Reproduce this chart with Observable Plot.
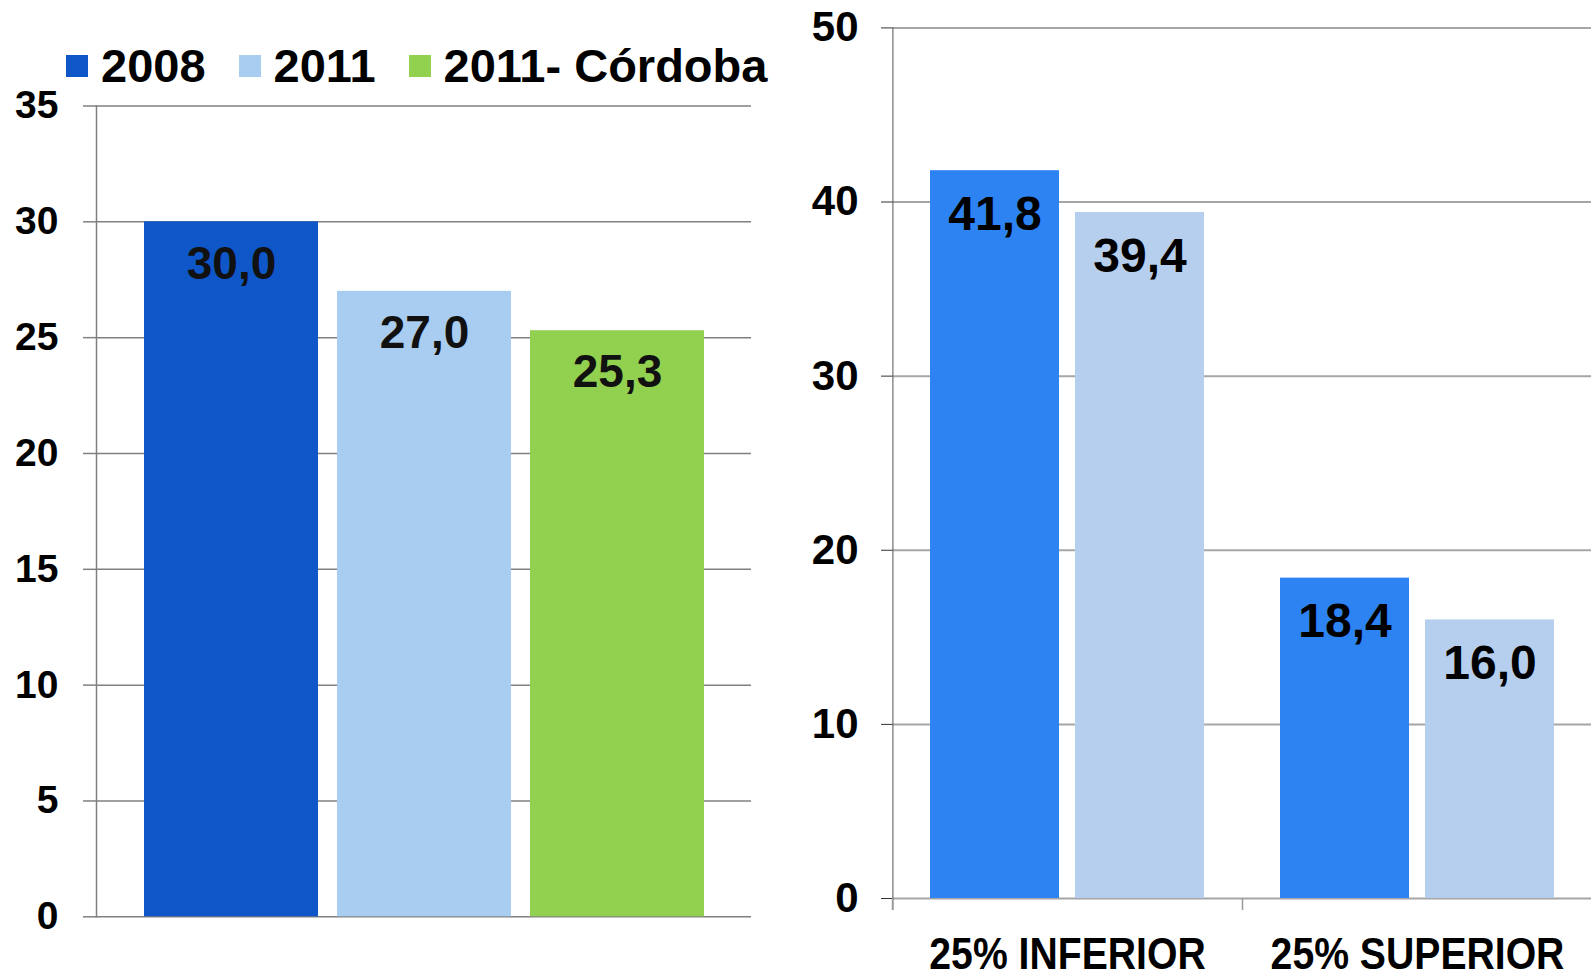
<!DOCTYPE html>
<html><head><meta charset="utf-8">
<script src="https://cdn.jsdelivr.net/npm/d3@7"></script>
<script src="https://cdn.jsdelivr.net/npm/@observablehq/plot@0.6"></script>
<style>
html,body{margin:0;padding:0;background:#fff;overflow:hidden;}
#wrap{position:relative;width:1591px;height:973px;overflow:hidden;background:#fff;}
#left,#right,#legend{position:absolute;top:0;}
#left{left:0;width:770px;}
#right{left:780px;width:820px;}
#left svg,#right svg{max-width:none !important;}
#legend{left:66px;top:42px;font:bold 47px "Liberation Sans",Arial,sans-serif;color:#000;}
#legend .lg-swatches{font:bold 47px "Liberation Sans",Arial,sans-serif !important;color:#000;margin:0 !important;min-height:0 !important;height:47px;display:flex !important;align-items:center;flex-wrap:nowrap !important;}
#legend .lg-swatch{margin-right:33px !important;white-space:nowrap;display:inline-flex;align-items:center;}
#legend .lg-swatch > svg{margin-right:13px !important;}
</style></head><body>
<div id="wrap"><div id="left"></div><div id="legend"></div><div id="right"></div></div>
<script>
// ---- data: left chart ----
const leftSeries = ["2008", "2011", "2011- Córdoba"];
const leftValues = [30.0, 27.0, 25.3];
const leftColors = ["#0f57c9", "#a9cdf0", "#92d050"];
const leftTicks = [0, 5, 10, 15, 20, 25, 30, 35];

// ---- data: right chart ----
const groups = ["25% INFERIOR", "25% SUPERIOR"];
const rightSeries = ["2008", "2011"];
const rightInferior = [41.8, 39.4];
const rightSuperior = [18.4, 16.0];
const rightColors = ["#2e83f2", "#b6cfee"];
const rightTicks = [0, 10, 20, 30, 40, 50];

const fmt = d3.formatLocale({decimal: ",", thousands: ".", grouping: [3], currency: ["", ""]}).format(".1f");
const FONT = "'Liberation Sans', Arial, sans-serif";

const leftData = leftSeries.map((s, i) => ({series: s, value: leftValues[i]}));
const rightData = groups.flatMap((g, gi) =>
  rightSeries.map((s, si) => ({group: g, series: s, value: [rightInferior, rightSuperior][gi][si]})));

// ---- left chart ----
const left = Plot.plot({
  width: 770, height: 973,
  marginLeft: 96, marginRight: 19, marginTop: 105.5, marginBottom: 56.7,
  style: {background: "transparent", fontFamily: FONT, color: "#000", overflow: "visible"},
  x: {domain: leftSeries, paddingInner: 0.1, paddingOuter: 0.24, axis: null},
  y: {domain: [0, 35]},
  color: {domain: leftSeries, range: leftColors},
  marks: [
    Plot.gridY(leftTicks, {stroke: "#808080", strokeOpacity: 1, strokeWidth: 1.5}),
    Plot.axisY(leftTicks, {tickSize: 13, tickPadding: 25, stroke: "#808080", strokeWidth: 1.5,
      fontSize: 39, fontWeight: "bold", label: null}),
    Plot.frame({anchor: "left", stroke: "#808080", strokeWidth: 1.5}),
    Plot.barY(leftData, {x: "series", y: "value", fill: "series"}),
    Plot.text(leftData, {x: "series", y: "value", text: d => fmt(d.value), dy: 42,
      fontSize: 46, fontWeight: "bold", fill: "#111"})
  ]
});
document.getElementById("left").appendChild(left);
document.getElementById("legend").appendChild(
  left.legend("color", {swatchSize: 22, className: "lg"}));

// ---- right chart ----
const RW = 820, RML = 112, RMR = 8;
const facetW = (RW - RML - RMR) / groups.length;
const pIn = 0.11, pOut = 0.255;
const step = facetW / (rightSeries.length - pIn + 2 * pOut);
const axisDx = pOut * step + step * (1 - pIn) / 2;

const right = Plot.plot({
  width: RW, height: 973,
  marginLeft: RML, marginRight: RMR, marginTop: 27.4, marginBottom: 75,
  style: {background: "transparent", fontFamily: FONT, color: "#000", overflow: "visible"},
  fx: {domain: groups, padding: 0, label: null},
  x: {domain: rightSeries, paddingInner: pIn, paddingOuter: pOut, axis: null},
  y: {domain: [0, 50]},
  color: {domain: rightSeries, range: rightColors},
  marks: [
    Plot.gridY(rightTicks, {stroke: "#a6a6a6", strokeOpacity: 1, strokeWidth: 2}),
    Plot.barY(rightData, {fx: "group", x: "series", y: "value", fill: "series"}),
    Plot.axisY(rightTicks, {tickSize: 11, tickPadding: 23, stroke: "#333",
      fontSize: 42, fontWeight: "bold", label: null}),
    Plot.ruleX([{group: groups[0], series: rightSeries[0]}],
      {fx: "group", x: "series", dx: -axisDx, insetBottom: -12, stroke: "#555"}),
    Plot.axisFx({anchor: "bottom", tickSize: 12, dx: -facetW / 2, stroke: "#999", strokeWidth: 1.5,
      tickFormat: () => "", label: null}),
    Plot.axisFx({anchor: "bottom", tickSize: 0, tickPadding: 39, fontSize: 44, fontWeight: "bold",
      label: null}),
    Plot.text(rightData, {fx: "group", x: "series", y: "value", text: d => fmt(d.value), dy: 44,
      fontSize: 48, fontWeight: "bold", fill: "#000"})
  ]
});
document.getElementById("right").appendChild(right);

// narrow the group labels (the original uses a narrower display face)
d3.select(right).selectAll("text").each(function () {
  if (groups.includes(this.textContent.trim())) {
    const w = this.getComputedTextLength();
    if (w > 0) {
      this.setAttribute("textLength", w * 0.89);
      this.setAttribute("lengthAdjust", "spacingAndGlyphs");
    }
  }
});
</script>
</body></html>
